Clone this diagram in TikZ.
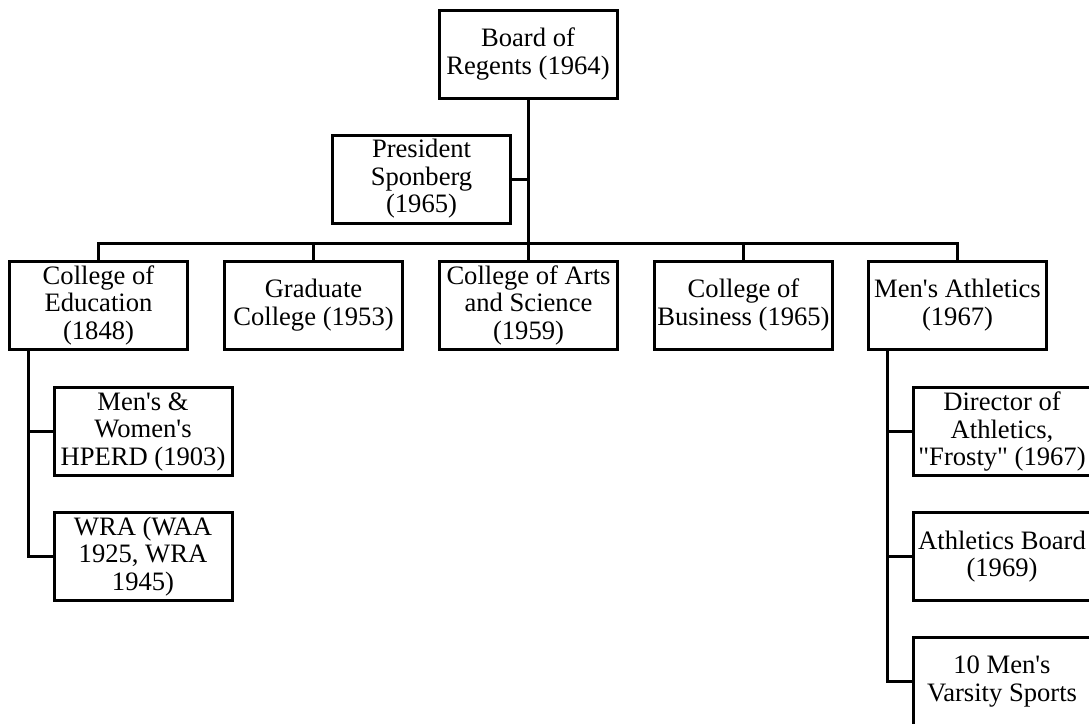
\documentclass[tikz,border=0pt]{standalone}
\usepackage{fontspec}
\newfontfamily\orgfont{Liberation Serif}
\usetikzlibrary{positioning}

\begin{document}
\begin{tikzpicture}[
x=1pt, y=-1pt,
node distance=37pt,
unit/.style={rectangle, draw, line width=3pt, minimum width=178pt, minimum height=88pt, inner sep=0pt, outer sep=0pt, align=center, font=\orgfont\fontsize{26.6}{27.5}\selectfont},
link/.style={line width=3pt}
]
\useasboundingbox (0,0) rectangle (1089,723);
\clip (0,0) rectangle (1089,723);

\node[unit] (regents) at (528,54) {Board of\\Regents (1964)};
\node[unit] (president) at (421.5,179) {President\\Sponberg\\(1965)};

\node[unit] (edu) at (98.5,305) {College of\\Education\\(1848)};
\node[unit, right=of edu] (grad) {Graduate\\College (1953)};
\node[unit, right=of grad] (arts) {College of Arts\\and Science\\(1959)};
\node[unit, right=of arts] (business) {College of\\Business (1965)};
\node[unit, right=36pt of business] (athletics) {Men's Athletics\\(1967)};

\node[unit] (hperd) at (143,431.5) {Men's \&\\Women's\\HPERD (1903)};
\node[unit, below=of hperd] (wra) {WRA (WAA\\1925, WRA\\1945)};

\node[unit] (director) at (1002,431.5) {Director of\\Athletics,\\"Frosty" (1967)};
\node[unit, below=of director] (board) {Athletics Board\\(1969)};
\node[unit, below=of board] (varsity) {10 Men's\\Varsity Sports};

\coordinate (bus) at (528,243);
\coordinate (eduspine) at ([xshift=18.5pt]edu.south west);
\coordinate (athspine) at ([xshift=18.5pt]athletics.south west);

\draw[link] (regents.south) -- (bus);
\draw[link] (president.east) -- (president.east -| regents.south);
\foreach \n in {edu,grad,arts,business,athletics}
  \draw[link] (bus) -| (\n.north);

\draw[link] (eduspine) |- (hperd.west);
\draw[link] (eduspine) |- (wra.west);

\draw[link] (athspine) |- (director.west);
\draw[link] (athspine) |- (board.west);
\draw[link] (athspine) |- (varsity.west);

\end{tikzpicture}
\end{document}
